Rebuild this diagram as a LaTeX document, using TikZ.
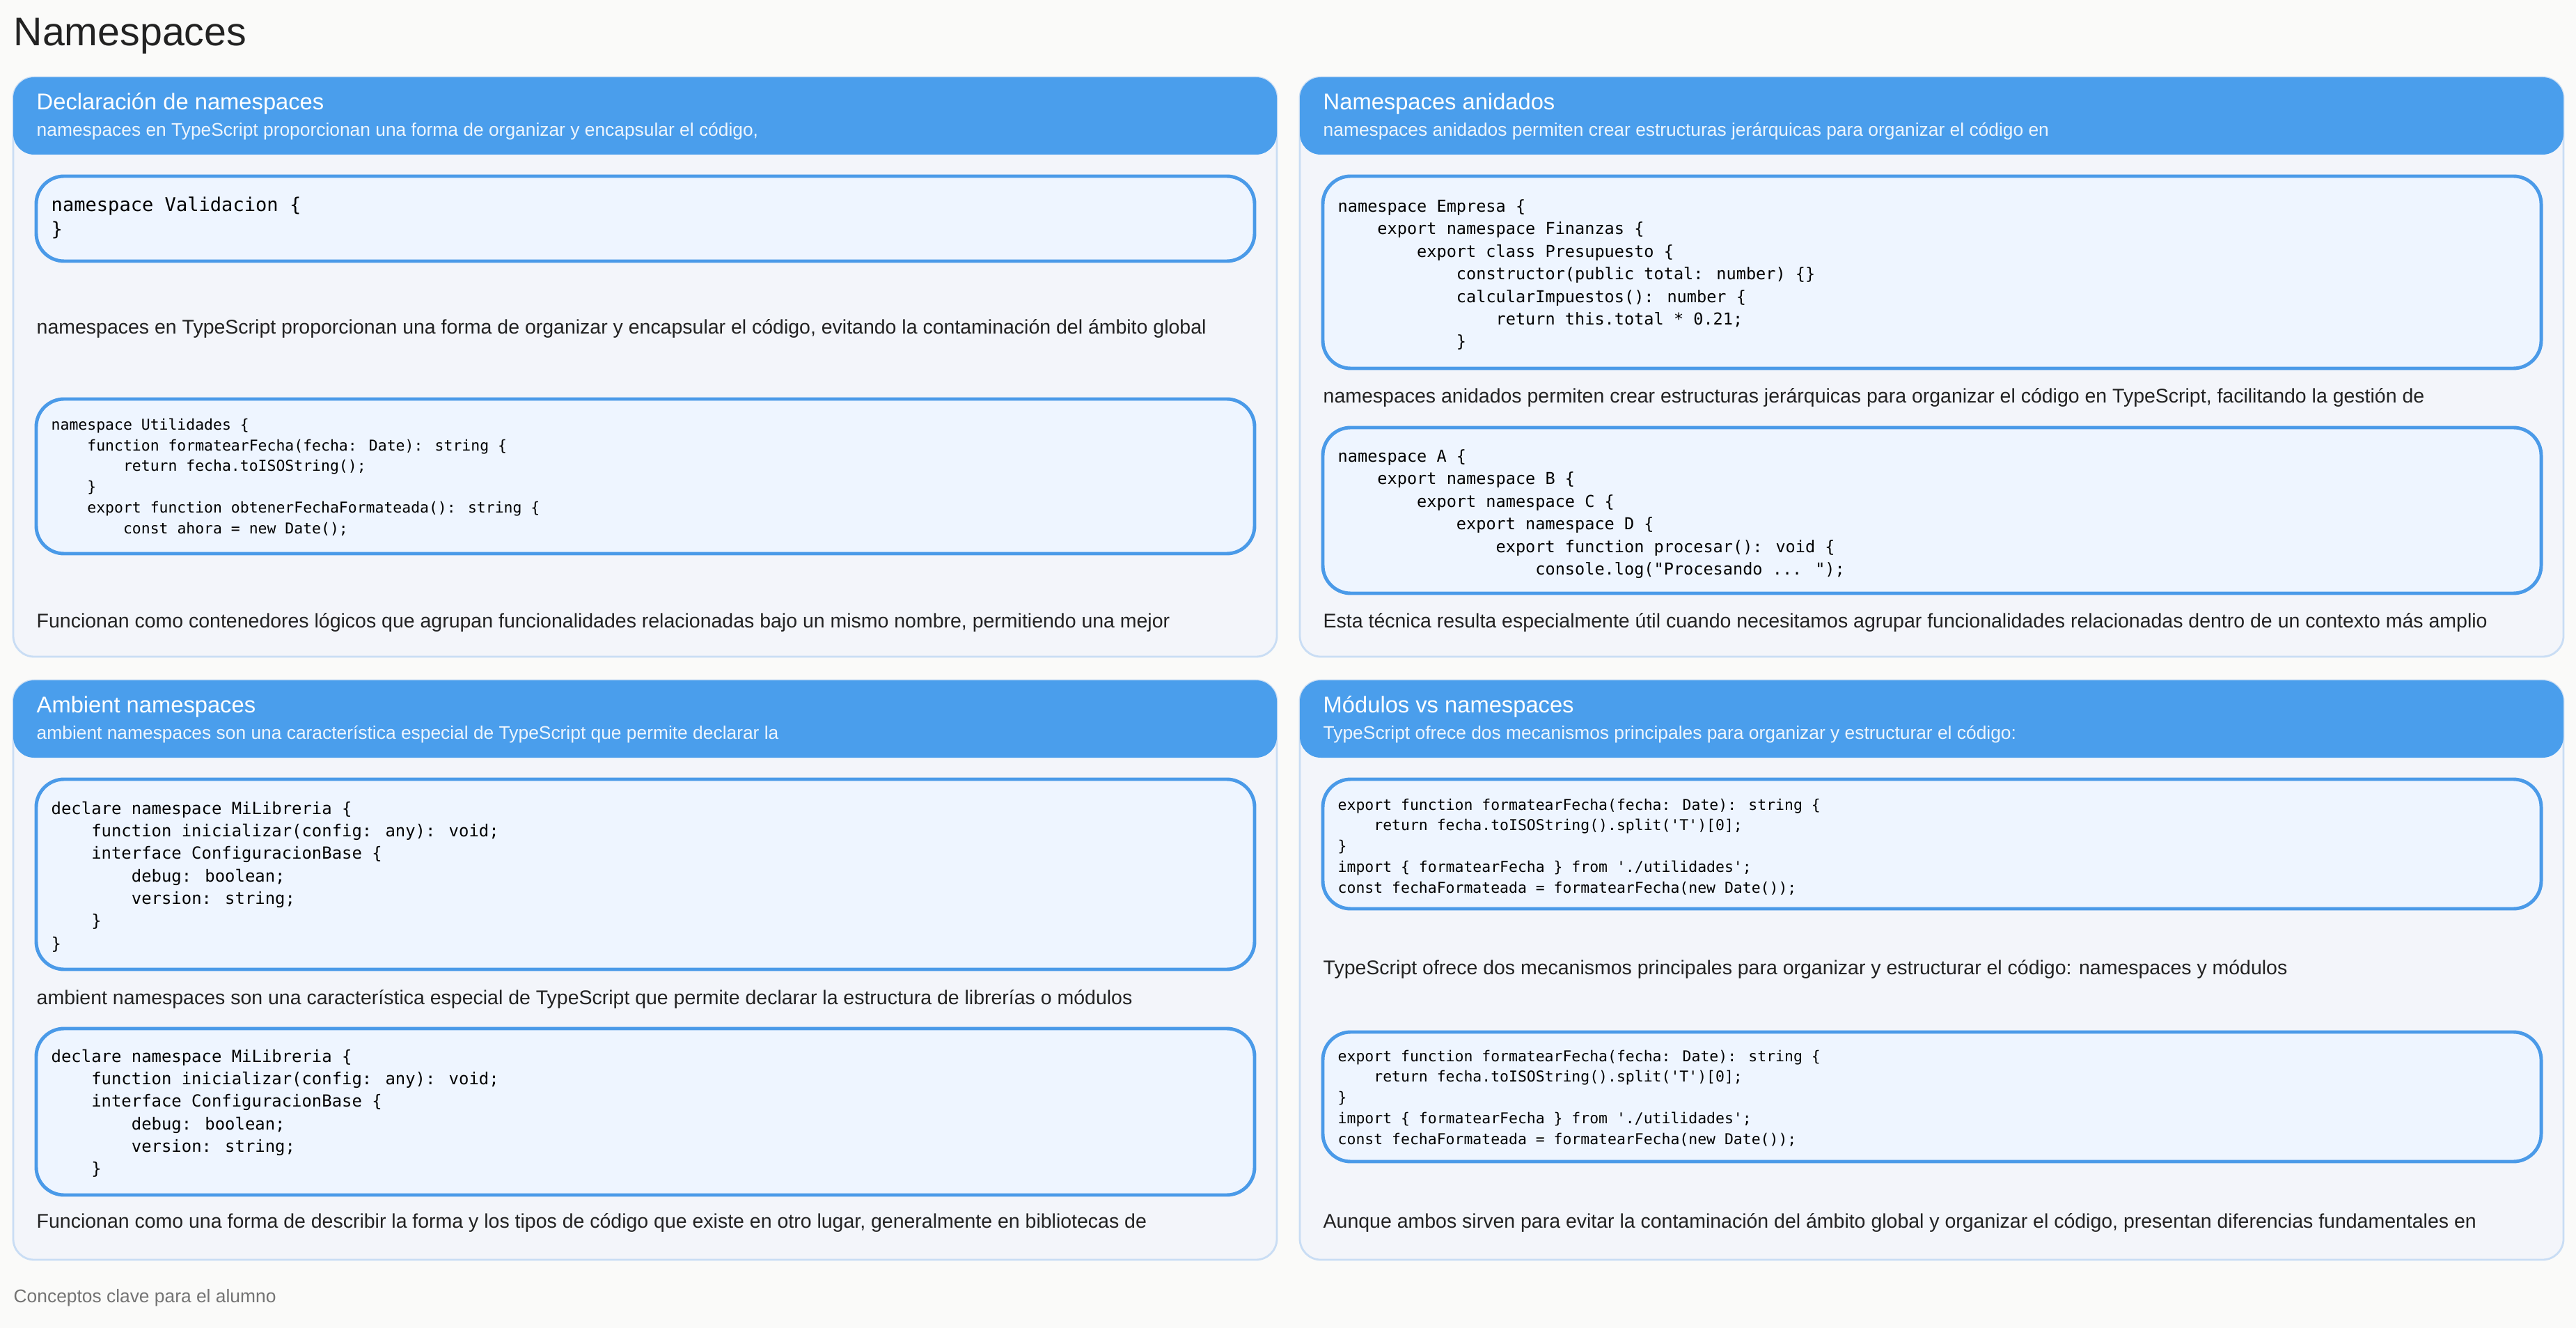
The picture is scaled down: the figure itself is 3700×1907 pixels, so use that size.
\documentclass[tikz,border=0pt]{standalone}
\usepackage{fontspec}
\setmainfont{Liberation Sans}
\newfontfamily\codefont{DejaVu Sans Mono}
\usetikzlibrary{positioning}

\definecolor{pagebg}{HTML}{FAFAF9}
\definecolor{panelbg}{HTML}{F3F5FA}
\definecolor{panelline}{HTML}{C9DDF4}
\definecolor{headblue}{HTML}{4A9EEC}
\definecolor{codebg}{HTML}{EEF5FF}
\definecolor{codeline}{HTML}{4A9AE8}
\definecolor{inktext}{HTML}{222222}

\begin{document}
\begin{tikzpicture}[
	x = 0.01cm, y = -0.01cm,
	panel/.style={draw=panelline, line width=0.8pt, fill=panelbg, rounded corners=0.3cm},
	header/.style={fill=headblue, rounded corners=0.3cm},
	codebox/.style={draw=codeline, line width=1.4pt, fill=codebg, rounded corners=0.4cm},
	headtitle/.style={anchor=west, inner sep=0pt, text=white, font=\fontsize{9.3}{11}\selectfont},
	headsub/.style={anchor=west, inner sep=0pt, text=white!90!headblue, font=\fontsize{7.5}{9}\selectfont},
	body/.style={anchor=west, inner sep=0pt, text=inktext, font=\fontsize{8.1}{10}\selectfont},
	code/.style={anchor=north west, inner sep=0pt, align=left, text=black, font=\codefont\fontsize{6.5}{8.5}\selectfont},
	]
	\useasboundingbox (0,0) rectangle (3700,1907);
	\fill[pagebg] (0,0) rectangle (3700,1907);
	\node (title) [anchor=west, inner sep=0pt, text=inktext, font=\fontsize{16.3}{19}\selectfont] at (19,52) {Namespaces};

	% panels
	\foreach \px/\py in {19/111, 1867/111, 19/977, 1867/977} {
		\draw[panel] (\px,\py) rectangle ++(1815,832);
		\fill[header] (\px,\py) rectangle ++(1815,111);
	}

	% codigo
	\foreach \bx/\by/\ey in {52/253/375, 52/573/795, 1900/253/529, 1900/614/852,
		52/1119/1392, 52/1477/1716, 1900/1119/1305, 1900/1482/1668} {
		\draw[codebox] (\bx,\by) rectangle (\bx+1750,\ey);
	}

	% Declaracion de namespaces
	\node (t1) [headtitle] at (52,149) {Declaración de namespaces};
	\node (s1) [headsub] at (52,189) {namespaces en TypeScript proporcionan una forma de organizar y encapsular el código,};
	\node (c1a) [code, font=\codefont\fontsize{7.7}{10}\selectfont] at (73,282) {namespace Validacion \{\\\}};
	\node (p1a) [body] at (52,472) {namespaces en TypeScript proporcionan una forma de organizar y encapsular el código, evitando la contaminación del ámbito global};
	\node (c1b) [code, font=\codefont\fontsize{6.1}{8.5}\selectfont] at (73,600) {namespace Utilidades \{\\
~~~~function formatearFecha(fecha: Date): string \{\\
~~~~~~~~return fecha.toISOString();\\
~~~~\}\\
~~~~export function obtenerFechaFormateada(): string \{\\
~~~~~~~~const ahora = new Date();};
	\node (p1b) [body] at (52,894) {Funcionan como contenedores lógicos que agrupan funcionalidades relacionadas bajo un mismo nombre, permitiendo una mejor};

	% Namespaces anidados
	\node (t2) [headtitle] at (1900,149) {Namespaces anidados};
	\node (s2) [headsub] at (1900,189) {namespaces anidados permiten crear estructuras jerárquicas para organizar el código en};
	\node (c2a) [code, font=\codefont\fontsize{6.7}{9.2}\selectfont] at (1921,286) {namespace Empresa \{\\
~~~~export namespace Finanzas \{\\
~~~~~~~~export class Presupuesto \{\\
~~~~~~~~~~~~constructor(public total: number) \{\}\\
~~~~~~~~~~~~calcularImpuestos(): number \{\\
~~~~~~~~~~~~~~~~return this.total * 0.21;\\
~~~~~~~~~~~~\}};
	\node (p2a) [body] at (1900,571) {namespaces anidados permiten crear estructuras jerárquicas para organizar el código en TypeScript, facilitando la gestión de};
	\node (c2b) [code, font=\codefont\fontsize{6.7}{9.2}\selectfont] at (1921,645) {namespace A \{\\
~~~~export namespace B \{\\
~~~~~~~~export namespace C \{\\
~~~~~~~~~~~~export namespace D \{\\
~~~~~~~~~~~~~~~~export function procesar(): void \{\\
~~~~~~~~~~~~~~~~~~~~console.log("Procesando ... ");};
	\node (p2b) [body] at (1900,894) {Esta técnica resulta especialmente útil cuando necesitamos agrupar funcionalidades relacionadas dentro de un contexto más amplio};

	% Ambient namespaces
	\node (t3) [headtitle] at (52,1015) {Ambient namespaces};
	\node (s3) [headsub] at (52,1055) {ambient namespaces son una característica especial de TypeScript que permite declarar la};
	\node (c3a) [code, font=\codefont\fontsize{6.8}{9.2}\selectfont] at (73,1150) {declare namespace MiLibreria \{\\
~~~~function inicializar(config: any): void;\\
~~~~interface ConfiguracionBase \{\\
~~~~~~~~debug: boolean;\\
~~~~~~~~version: string;\\
~~~~\}\\
\}};
	\node (p3a) [body] at (52,1435) {ambient namespaces son una característica especial de TypeScript que permite declarar la estructura de librerías o módulos};
	\node (c3b) [code, font=\codefont\fontsize{6.8}{9.2}\selectfont] at (73,1506) {declare namespace MiLibreria \{\\
~~~~function inicializar(config: any): void;\\
~~~~interface ConfiguracionBase \{\\
~~~~~~~~debug: boolean;\\
~~~~~~~~version: string;\\
~~~~\}};
	\node (p3b) [body] at (52,1756) {Funcionan como una forma de describir la forma y los tipos de código que existe en otro lugar, generalmente en bibliotecas de};

	% Modulos vs namespaces
	\node (t4) [headtitle] at (1900,1015) {Módulos vs namespaces};
	\node (s4) [headsub] at (1900,1055) {TypeScript ofrece dos mecanismos principales para organizar y estructurar el código:};
	\node (c4a) [code, font=\codefont\fontsize{6.1}{8.5}\selectfont] at (1921,1146) {export function formatearFecha(fecha: Date): string \{\\
~~~~return fecha.toISOString().split('T')[0];\\
\}\\
import \{ formatearFecha \} from './utilidades';\\
const fechaFormateada = formatearFecha(new Date());};
	\node (p4a) [body] at (1900,1392) {TypeScript ofrece dos mecanismos principales para organizar y estructurar el código: namespaces y módulos};
	\node (c4b) [code, font=\codefont\fontsize{6.1}{8.5}\selectfont] at (1921,1507) {export function formatearFecha(fecha: Date): string \{\\
~~~~return fecha.toISOString().split('T')[0];\\
\}\\
import \{ formatearFecha \} from './utilidades';\\
const fechaFormateada = formatearFecha(new Date());};
	\node (p4b) [body] at (1900,1756) {Aunque ambos sirven para evitar la contaminación del ámbito global y organizar el código, presentan diferencias fundamentales en};

	\node (foot) [anchor=west, inner sep=0pt, text=black!55, font=\fontsize{7.5}{9}\selectfont] at (19,1864) {Conceptos clave para el alumno};
\end{tikzpicture}
\end{document}
